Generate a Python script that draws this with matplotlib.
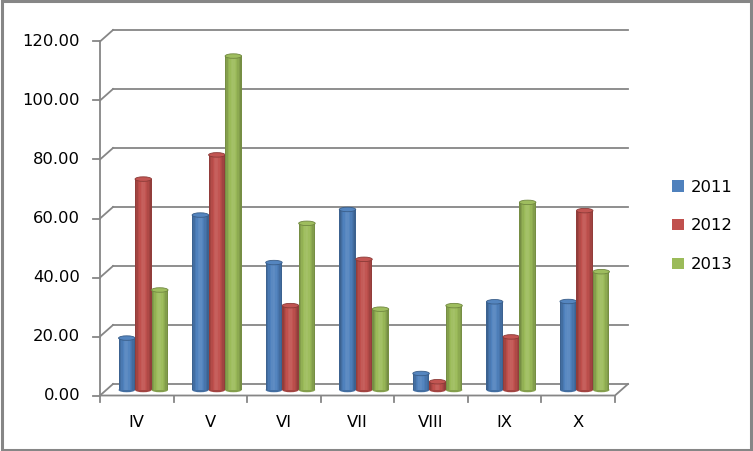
import numpy as np
import matplotlib
matplotlib.use("Agg")
import matplotlib.pyplot as plt
from matplotlib.patches import Ellipse, Patch, Rectangle
from matplotlib.colors import to_rgb

# chart data
categories = ["IV", "V", "VI", "VII", "VIII", "IX", "X"]
years = ["2011", "2012", "2013"]
values_2011 = [17.6, 59.3, 43.2, 61.2, 5.6, 29.9, 30.0]
values_2012 = [71.5, 79.7, 28.6, 44.3, 2.8, 18.0, 60.8]
values_2013 = [33.9, 113.2, 56.5, 27.4, 28.6, 63.6, 40.1]
y_ticks = [0, 20, 40, 60, 80, 100, 120]

colors = ["#4F81BD", "#C0504D", "#9BBB59"]
grid_color = "#868686"

W, H = 753, 451
px_x = 515 / 7.0      # pixels per category
px_y = 354 / 120.0    # pixels per value unit

# 3D depth offsets (data units) relative to bar plane
dx = 6.5 / px_x
dy_back = 6.0 / px_y
dy_front = -5.5 / px_y


def shade(color, f):
    c = np.array(to_rgb(color))
    if f >= 1:
        return tuple(c + (1 - c) * (f - 1))
    return tuple(c * f)


def draw_cylinder(ax, xc, h, w, color, z):
    n = 12
    prof = [0.76, 0.85, 0.94, 1.0, 1.06, 1.09, 1.08, 1.03, 0.97, 0.91, 0.84, 0.76]
    left = xc - w / 2
    sw = w / n
    eh = 4.5 / px_y
    ax.add_patch(Ellipse((xc, 0), w, eh, facecolor=shade(color, 0.85),
                         edgecolor="none", zorder=z, clip_on=False))
    ax.bar([left + (k + 0.5) * sw for k in range(n)], [h] * n, width=sw * 1.02,
           color=[shade(color, p) for p in prof], zorder=z + 0.1,
           linewidth=0, clip_on=False)
    ax.add_patch(Ellipse((xc, h), w, eh, facecolor=shade(color, 1.03),
                         edgecolor=shade(color, 0.72), linewidth=0.6,
                         zorder=z + 0.2, clip_on=False))


fig = plt.figure(figsize=(W / 100, H / 100), dpi=100)
ax = fig.add_axes([106.5 / W, (H - 390) / H, 515 / W, 354 / H])
ax.set_xlim(0, 7)
ax.set_ylim(0, 120)
ax.axis("off")

# back wall gridlines and left side wall diagonals
for v in y_ticks:
    ax.plot([dx, 7 + dx], [v + dy_back, v + dy_back], color=grid_color,
            lw=1.3, zorder=1, clip_on=False)
    ax.plot([-dx, dx], [v + dy_front, v + dy_back], color=grid_color,
            lw=1.3, zorder=1, clip_on=False)
    ax.plot([-dx - 7 / px_x, -dx], [v + dy_front, v + dy_front],
            color=grid_color, lw=1.3, zorder=1, clip_on=False)
    ax.text(-dx - 20 / px_x, v + dy_front, "{:.2f}".format(v),
            ha="right", va="center", fontsize=11.8, color="black")

# front vertical axis and floor
ax.plot([-dx, -dx], [dy_front, 120 + dy_front], color=grid_color, lw=1.3,
        zorder=1, clip_on=False)
ax.plot([-dx, 7 - dx, 7 + dx], [dy_front, dy_front, dy_back], color=grid_color,
        lw=1.3, zorder=1, clip_on=False)
for i in range(8):
    ax.plot([i - dx, i - dx], [dy_front, dy_front - 6 / px_y], color=grid_color,
            lw=1.3, zorder=1, clip_on=False)

for i, cat in enumerate(categories):
    ax.text(i + 0.5 - dx, dy_front - 27 / px_y, cat, ha="center", va="center",
            fontsize=11.8, color="black")

# bars
bw = 16.5 / px_x
series = [values_2011, values_2012, values_2013]
for j, vals in enumerate(series):
    for i, v in enumerate(vals):
        xc = i + 0.5 + (j - 1) * bw
        draw_cylinder(ax, xc, v, bw, colors[j], 3 + j)

# legend
handles = [Patch(facecolor=c, edgecolor="none") for c in colors]
fig.legend(handles, years, loc="center left", bbox_to_anchor=(664 / W, 1 - 226 / H),
           frameon=False, fontsize=11.8, handlelength=0.7, handleheight=0.7,
           handletextpad=0.45, labelspacing=1.45, borderpad=0)

# chart border
fig.add_artist(Rectangle((0.003, 0.003), 0.995, 0.995, transform=fig.transFigure,
                         fill=False, edgecolor=grid_color, lw=2.2))

fig.savefig("out.png", dpi=100)
